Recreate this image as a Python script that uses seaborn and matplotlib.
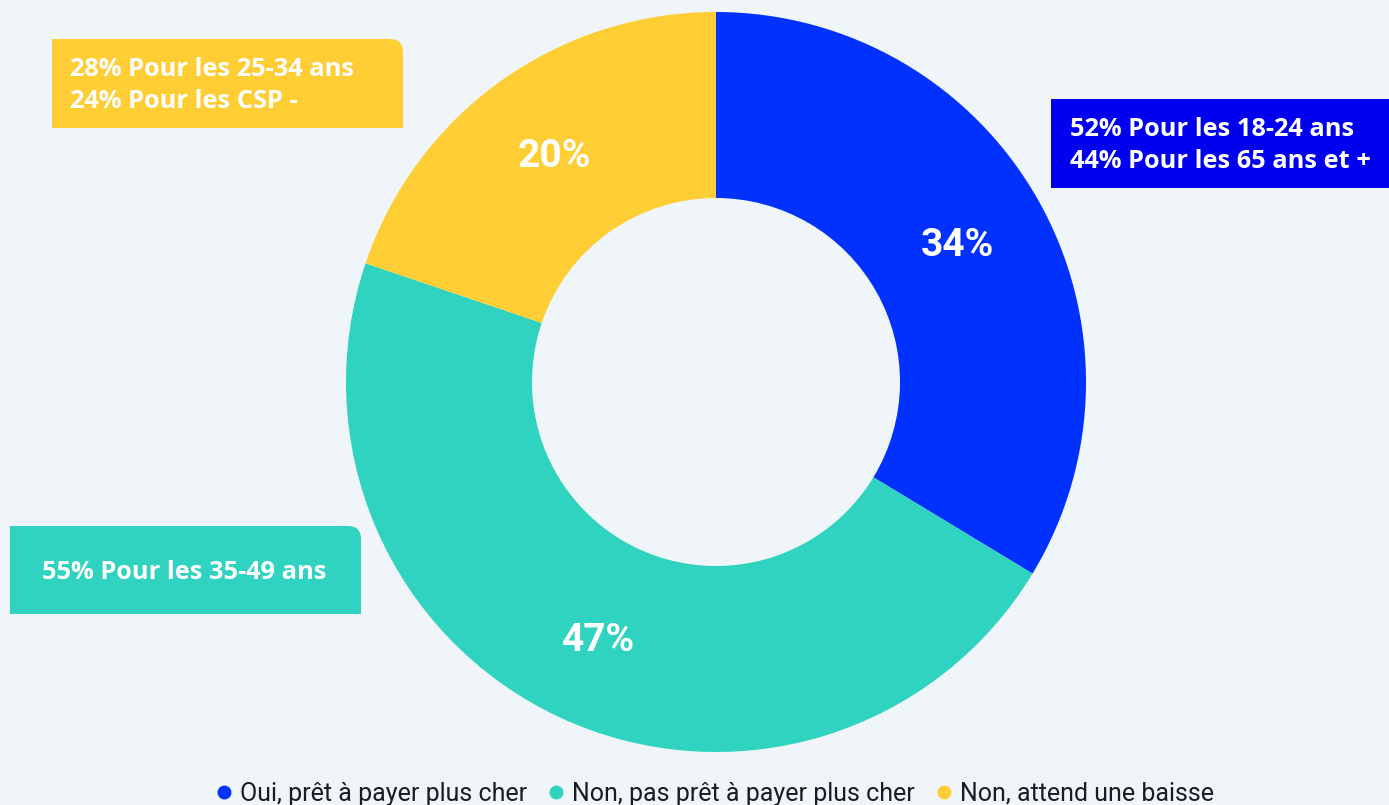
import matplotlib
matplotlib.use("Agg")
import matplotlib.pyplot as plt
import seaborn as sns
from matplotlib.patches import FancyBboxPatch, Rectangle
from matplotlib.lines import Line2D

# data
categories = ["Oui, prêt à payer plus cher", "Non, pas prêt à payer plus cher", "Non, attend une baisse"]
values = [34, 47, 20]
slice_colors = ["#0031FE", "#30D3C0", "#FFCD34"]

# call-out boxes (text lines per box)
blue_notes = ["52% Pour les 18-24 ans", "44% Pour les 65 ans et +"]
yellow_notes = ["28% Pour les 25-34 ans", "24% Pour les CSP -"]
teal_notes = ["55% Pour les 35-49 ans"]

bg = "#F0F5F9"
sns.set_theme(style="white", rc={"figure.facecolor": bg, "axes.facecolor": bg})
plt.rcParams["font.family"] = ["Open Sans", "DejaVu Sans"]

fig = plt.figure(figsize=(13.89, 8.05), dpi=100)
ax = fig.add_axes([0, 0, 1, 1])

# donut, pixel coordinates with y pointing down
cx, cy, r = 716, 382, 370
wedges, _, autotexts = ax.pie(
    values, colors=slice_colors, startangle=-90, counterclock=True,
    center=(cx, cy), radius=r, autopct=lambda p: f"{p:.0f}%", pctdistance=0.75,
    wedgeprops=dict(width=186, linewidth=0),
    textprops=dict(color="white", fontsize=28, fontweight="bold", family=["Roboto", "DejaVu Sans"]),
)
autotexts[1].set_y(autotexts[1].get_position()[1] + 7)

ax.set_xlim(0, 1389)
ax.set_ylim(805, 0)
ax.set_aspect("auto")
ax.axis("off")


def box(x0, y0, x1, y1, color, rounded=True):
    w, h = x1 - x0, y1 - y0
    if rounded:
        ax.add_patch(FancyBboxPatch((x0, y0), w, h, boxstyle="round,pad=0,rounding_size=13",
                                    fc=color, ec="none", zorder=3))
        ax.add_patch(Rectangle((x0, y0), w / 2, h, fc=color, ec="none", zorder=3))
        # y is inverted: the bottom on screen is the larger y
        ax.add_patch(Rectangle((x0, y0 + h / 2), w, h / 2, fc=color, ec="none", zorder=3))
    else:
        ax.add_patch(Rectangle((x0, y0), w, h, fc=color, ec="none", zorder=3))


box(52, 39, 403, 128, "#FFCD34")
box(1051, 99, 1389, 188, "#0000EE", rounded=False)
box(10, 526, 361, 614, "#30D3C0")

note_style = dict(color="white", fontsize=18.3, fontweight="bold", va="center", zorder=4)
for i, line in enumerate(yellow_notes):
    ax.text(70, 70 + i * 31, line, ha="left", **note_style)
for i, line in enumerate(blue_notes):
    ax.text(1070, 130 + i * 31, line, ha="left", **note_style)
for i, line in enumerate(teal_notes):
    ax.text(184, 572 + i * 31, line, ha="center", **note_style)

handles = [Line2D([], [], marker="o", linestyle="none", markersize=9,
                  markerfacecolor=c, markeredgecolor=c) for c in slice_colors]
fig.legend(handles, categories, loc="center", bbox_to_anchor=(0.513, 0.014), ncol=3,
           frameon=False, handletextpad=0.15, columnspacing=0.65, handlelength=1.0,
           prop=dict(family=["Roboto", "DejaVu Sans"], size=18), labelcolor="#1B1B25")

fig.savefig("out.png", dpi=100, facecolor=bg)
